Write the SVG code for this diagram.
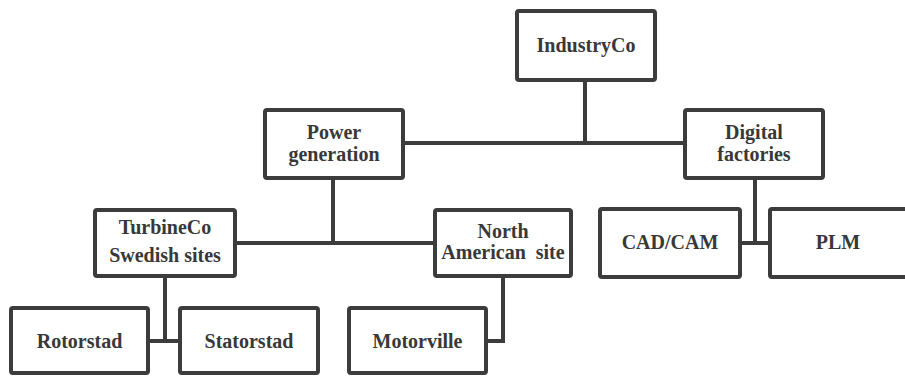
<svg xmlns="http://www.w3.org/2000/svg" width="905" height="376" viewBox="0 0 905 376">
<style>
.box{fill:#fff;stroke:#3c3c3c;stroke-width:4;}
.t{font-weight:bold;font-size:20px;fill:#383838;text-anchor:middle;}
.c{fill:none;stroke:#3c3c3c;stroke-width:4;}
</style>
<rect width="905" height="376" fill="#fff"/>
<g id="connectors">
<path class="c" d="M585 80V143M405 143H683"/>
<path class="c" d="M333 180V243M237 243H433"/>
<path class="c" d="M755 179V243M742 243H768"/>
<path class="c" d="M165 278V341M150 341H178"/>
<path class="c" d="M503 278V341H488"/>
</g>
<g font-family="Liberation Serif, Times New Roman, serif">
<g id="industryco"><rect class="box" x="517" y="11" width="138" height="69" rx="2"/><text class="t" x="586" y="52">IndustryCo</text></g>
<g id="power"><rect class="box" x="265" y="110" width="138" height="68" rx="2"/><text class="t" x="334" y="139">Power</text><text class="t" x="334" y="161">generation</text></g>
<g id="digital"><rect class="box" x="685" y="110" width="138" height="68" rx="2"/><text class="t" x="754" y="139">Digital</text><text class="t" x="754" y="161">factories</text></g>
<g id="turbineco"><rect class="box" x="95" y="210" width="140" height="66" rx="2"/><text class="t" x="165" y="234">TurbineCo</text><text class="t" x="165" y="262">Swedish sites</text></g>
<g id="northamerican"><rect class="box" x="435" y="210" width="136" height="66" rx="2"/><text class="t" x="503" y="238">North</text><text class="t" x="503" y="259" xml:space="preserve">American  site</text></g>
<g id="cadcam"><rect class="box" x="600" y="209" width="140" height="68" rx="2"/><text class="t" x="670" y="249">CAD/CAM</text></g>
<g id="plm"><rect class="box" x="770" y="209" width="140" height="68" rx="2"/><text class="t" x="838" y="249">PLM</text></g>
<g id="rotorstad"><rect class="box" x="11" y="308" width="137" height="65" rx="2"/><text class="t" x="79.5" y="348">Rotorstad</text></g>
<g id="statorstad"><rect class="box" x="180" y="308" width="138" height="65" rx="2"/><text class="t" x="249" y="348">Statorstad</text></g>
<g id="motorville"><rect class="box" x="349" y="308" width="137" height="65" rx="2"/><text class="t" x="417.5" y="348">Motorville</text></g>
</g>
</svg>
